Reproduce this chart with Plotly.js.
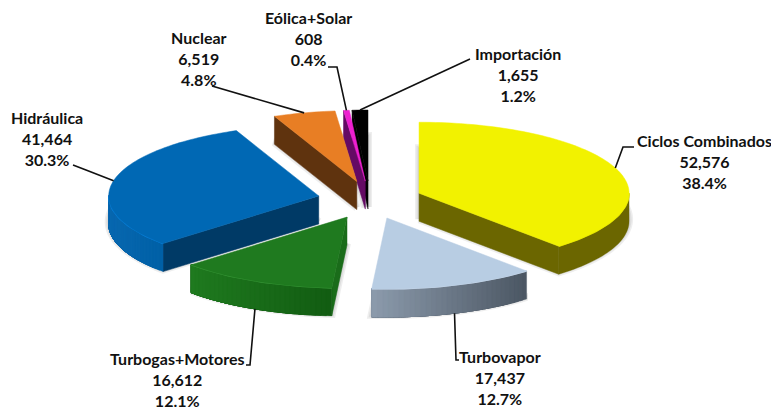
<!DOCTYPE html>
<html><head><meta charset="utf-8">
<script src="https://cdn.plot.ly/plotly-3.0.1.min.js"></script>
<style>html,body{margin:0;padding:0;background:#fff}#c{width:771px;height:410px}</style>
</head><body><div id="c"></div>
<script>
// Data
const names = ["Ciclos Combinados","Turbovapor","Turbogas+Motores","Hidráulica","Nuclear","Eólica+Solar","Importación"];
const values = [52576,17437,16612,41464,6519,608,1655];
// Styles
const faceColors = ["#F2F200","#B8CDE3","#1F7A1F","#0068B4","#E87E24","#EE1FD0","#000000"];
const sideColors = ["#6B6600","#55606C","#1A6C1A","#003A66","#5F330E","#640A64","#000000"];
const arcLeft  = ["#6B6600","#8C9BAC","#1F7A1F","#0968B0","#5F330E","#640A64","#000000"];
const arcRight = ["#6B6600","#4B5663","#125C12","#0060A6","#5F330E","#640A64","#000000"];
const rimColors = ["#D8D800","#C8D8EA","#3C9A3C","#0A84E0","#E87E24","#EE1FD0","#000000"];
const drawOrder = [6,5,4,3,0,2,1];
// Projection of the pie
const P = {cx:370, cy:200, rx:210, ry:71, depth:28, exX:52.5, exY:19};
// Label placement
const labelX = [704,500,177,47,199,308,518];
const labelY = [161.5,377.5,379,138.5,58.5,38.5,74.5];
const leaderEnds = [
  [[623,147],[634,147]],
  [[456,360],[459,360]],
  [[250,365],[246,365]],
  [[86,170],[73,165]],
  [[212,86]],
  [[337,67],[328,67]],
  [[470,59]]
];

const total = values.reduce((a,b)=>a+b,0);
const rad = d=>d*Math.PI/180;
const traces=[], shapes=[], annotations=[];
let acc=0;
const slices = values.map((v,i)=>{
  const a0=acc/total*360; acc+=v; const a1=acc/total*360; const mid=(a0+a1)/2;
  return {a0,a1,mid,ax:P.cx+P.exX*Math.sin(rad(mid)),ay:P.cy-P.exY*Math.cos(rad(mid))};
});
const pt=(s,a,dz=0)=>[s.ax+P.rx*Math.sin(rad(a)), s.ay-P.ry*Math.cos(rad(a))+dz];
const arc=(s,a0,a1,dz=0)=>{
  const n=Math.max(2,Math.ceil((a1-a0)/1.5)), out=[];
  for(let k=0;k<=n;k++) out.push(pt(s,a0+(a1-a0)*k/n,dz));
  return out;
};
function poly(points,color,lineW,lineColor){
  traces.push({type:"scatter",mode:"lines",x:points.map(p=>p[0]).concat(points[0][0]),y:points.map(p=>p[1]).concat(points[0][1]),
    fill:"toself",fillcolor:color,line:{color:lineColor||color,width:lineW===undefined?0.5:lineW,simplify:false},hoverinfo:"skip",showlegend:false});
}
const hex=c=>[1,3,5].map(k=>parseInt(c.substr(k,2),16));
const mix=(c1,c2,t)=>{const a=hex(c1),b=hex(c2);return "rgb("+a.map((x,i)=>Math.round(x+(b[i]-x)*t)).join(",")+")";};

// soft shadows below the whole pie
[8,5,2].forEach(w=>{
  drawOrder.forEach(i=>{
    const s=slices[i];
    poly([[s.ax,s.ay+26]].concat(arc(s,s.a0,s.a1,26)),"rgba(90,90,90,0.10)",w,"rgba(90,90,90,0.10)");
  });
});

// band of the outer wall between two points of the arc
const band=(pts,c)=>{
  const lower=pts.slice().reverse().map(p=>[p[0],p[1]+P.depth]);
  poly(pts.concat(lower),c,0.3);
};

drawOrder.forEach(i=>{
  const s=slices[i];
  // radial walls
  const wall=a=>{const e=pt(s,a);poly([[s.ax,s.ay],e,[e[0],e[1]+P.depth],[s.ax,s.ay+P.depth]],sideColors[i]);};
  if(s.a1<180) wall(s.a1);
  if(s.a0>=180) wall(s.a0);
  // outer wall: painted band over band, each one running on to the end, so no seams show
  const lo=Math.max(s.a0,90), hi=Math.min(s.a1,270);
  if(hi>lo){
    const pts=arc(s,lo,hi);
    const xs=pts.map(p=>p[0]), xMin=Math.min(...xs), xMax=Math.max(...xs);
    if(arcLeft[i]===arcRight[i]){ band(pts,arcLeft[i]); }
    else for(let k=0;k<pts.length-1;k++){
      const t=((pts[k][0]+pts[k+1][0])/2-xMin)/(xMax-xMin);
      band(pts.slice(k),mix(arcLeft[i],arcRight[i],t));
    }
    const rim=arc(s,lo,hi);
    traces.push({type:"scatter",mode:"lines",x:rim.map(p=>p[0]),y:rim.map(p=>p[1]),line:{color:rimColors[i],width:1.5},hoverinfo:"skip",showlegend:false});
  }
  // top face
  poly([[s.ax,s.ay]].concat(arc(s,s.a0,s.a1)),faceColors[i]);
});

// Leaders and labels
values.forEach((v,i)=>{
  const s=slices[i];
  const lo=s.mid>90&&s.mid<270?P.depth:0;
  const start=pt(s,s.mid,lo);
  const path=[start].concat(leaderEnds[i]);
  shapes.push({type:"path",xref:"x",yref:"y",path:path.map((p,k)=>(k?"L":"M")+p[0]+" "+p[1]).join(" "),line:{color:"#111",width:1.6},layer:"above"});
  annotations.push({xref:"x",yref:"y",x:labelX[i],y:labelY[i],xanchor:"center",yanchor:"middle",align:"center",showarrow:false,
    text:"<b>"+names[i]+"<br>"+v.toLocaleString("en-US")+"<br>"+(v/total*100).toFixed(1)+"%</b>",
    font:{family:"Lato, 'Open Sans', sans-serif",size:16,color:"#111"}});
});

Plotly.newPlot("c",traces,{
  width:771,height:410,margin:{l:0,r:0,t:0,b:0},paper_bgcolor:"#fff",plot_bgcolor:"#fff",showlegend:false,
  xaxis:{range:[0,771],visible:false,fixedrange:true},
  yaxis:{range:[410,0],visible:false,fixedrange:true},
  shapes:shapes,annotations:annotations
},{displayModeBar:false,staticPlot:true});
</script></body></html>
